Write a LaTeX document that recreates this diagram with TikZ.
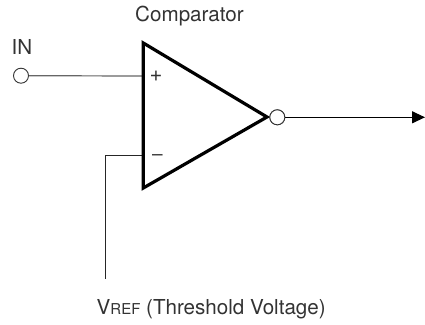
\documentclass[tikz,border=0pt]{standalone}
\usepackage{fontspec}
\setmainfont{TeX Gyre Heros}
\usetikzlibrary{arrows.meta}
\definecolor{ink}{HTML}{333333}
\tikzset{
  x=1pt,y=-1pt,
  wire/.style={line width=1.0pt,draw=black!85},
  pin/.style={circle,draw=black!80,fill=white,line width=0.9pt,minimum size=15pt,inner sep=0pt},
  lbl/.style={font=\fontsize{20.6}{24}\selectfont,text=ink,inner sep=0pt,anchor=base west},
  sign/.style={font=\fontsize{19}{22}\selectfont,text=ink,inner sep=0pt},
}
\begin{document}
\begin{tikzpicture}
\useasboundingbox (0,0) rectangle (425,324);
\coordinate (tl) at (143.3,43);
\coordinate (bl) at (143.3,188);
\coordinate (tip) at (267,117);
\coordinate (plusin) at (143.3,76);
\coordinate (minusin) at (143.3,155);
\coordinate (bend) at (105,155);
\coordinate (vrefend) at (105,279);
\coordinate (outend) at (425,117.3);
\node[pin] (in) at (21,75.7) {};
\node[pin] (out) at (277.3,117.3) {};
\draw[wire,draw=black!60,line width=1.2pt] (in) -- (plusin);
\draw[wire] (minusin) -- (bend) -- (vrefend);
\draw[wire,draw=black,line width=1.2pt,-{Triangle[length=13pt,width=12pt]}] (out) -- (outend);
\draw[line width=3.2pt,draw=black,line join=miter,fill=none] (tl) -- (tip) -- (bl) -- cycle;
\node[pin] at (out) {};
\node[lbl] (title) at (135,21) {Comparator};
\node[lbl] (inlabel) at (11.5,54) {IN};
\node[sign,font=\fontsize{22}{24}\selectfont] (plus) at (156,76.5) {+};
\node[sign] (minus) at (157.5,158) {–};
\node[lbl] (vref) at (96.5,314) {V{\fontsize{15}{18}\selectfont REF} (Threshold Voltage)};
\end{tikzpicture}
\end{document}
